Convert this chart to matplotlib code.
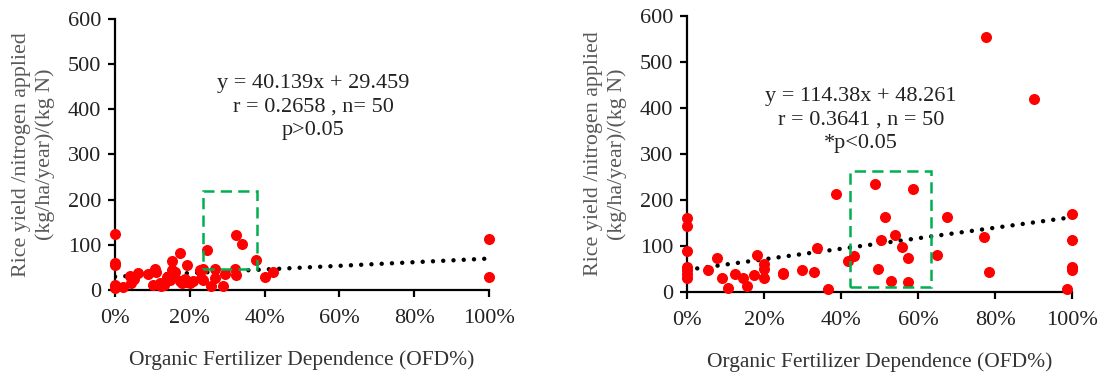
import numpy as np
import matplotlib.pyplot as plt
from matplotlib.patches import Rectangle

plt.rcParams['font.family'] = ['Liberation Serif', 'DejaVu Serif']

# Left panel data (OFD fraction, yield / N)
x_left = [0, 0, 0, 0, 0, 0.022, 0.04, 0.042, 0.05, 0.062, 0.089, 0.102, 0.108, 0.11,
          0.12, 0.124, 0.13, 0.14, 0.147, 0.151, 0.153, 0.153, 0.16, 0.173, 0.175,
          0.18, 0.186, 0.19, 0.193, 0.2, 0.209, 0.227, 0.231, 0.234, 0.234, 0.246,
          0.258, 0.267, 0.267, 0.29, 0.293, 0.32, 0.324, 0.324, 0.34, 0.378, 0.402,
          0.422, 1.0, 1.0]
y_left = [124, 60, 55, 12, 5, 6, 30, 15, 25, 38, 35, 11, 46, 40,
          15, 9, 11, 28, 22, 30, 44, 64, 40, 83, 20,
          15, 24, 18, 55, 16, 21, 44, 26, 46, 22, 88,
          9, 46, 26, 9, 35, 46, 121, 33, 102, 66, 29,
          40, 113, 29]

# Right panel data
x_right = [0, 0, 0, 0, 0, 0, 0, 0.054, 0.078, 0.091, 0.106, 0.125, 0.145, 0.157,
           0.173, 0.183, 0.199, 0.2, 0.2, 0.248, 0.25, 0.298, 0.33, 0.337, 0.365,
           0.388, 0.417, 0.433, 0.487, 0.497, 0.503, 0.515, 0.53, 0.541, 0.558,
           0.574, 0.574, 0.586, 0.649, 0.676, 0.772, 0.777, 0.785, 0.902, 0.986,
           1.0, 1.0, 1.0, 1.0, 1.0]
y_right = [160, 144, 90, 55, 48, 40, 30, 48, 75, 31, 8, 39, 30, 14,
           36, 80, 60, 51, 30, 41, 39, 48, 44, 95, 6,
           212, 67, 78, 234, 51, 114, 164, 25, 125, 97,
           75, 22, 225, 80, 164, 120, 554, 44, 420, 6,
           169, 112, 55, 52, 48]

fits = [(40.139, 29.459), (114.38, 48.261)]
texts = ["y = 40.139x + 29.459\nr = 0.2658 , n= 50\np>0.05",
         "y = 114.38x + 48.261\nr = 0.3641 , n = 50\n*p<0.05"]
text_pos = [(0.53, 405), (0.452, 374)]
boxes = [(0.235, 46, 0.145, 174), (0.424, 10, 0.21, 253)]

fig = plt.figure(figsize=(11.01, 3.72), dpi=100)
ax1 = fig.add_axes([0.1045, 0.2204, 0.3395, 0.7286])
ax2 = fig.add_axes([0.624, 0.215, 0.3497, 0.742])

data = [(x_left, y_left), (x_right, y_right)]
for i, ax in enumerate([ax1, ax2]):
    xs, ys = data[i]
    ax.scatter(xs, ys, s=48, color='#ff0000', zorder=3, clip_on=False)
    a, b = fits[i]
    xl = np.array([0, 1])
    ax.plot(xl, a * xl + b, color='black', lw=3.2, ls=(0, (0.01, 2.3)),
            dash_capstyle='round', zorder=2)
    bx, by, bw, bh = boxes[i]
    ax.add_patch(Rectangle((bx, by), bw, bh, fill=False, edgecolor='#00b050',
                           lw=1.8, ls=(0, (4.5, 2.5)), zorder=4))
    ax.text(text_pos[i][0], text_pos[i][1], texts[i], ha='center', va='center',
            fontsize=16, linespacing=1.33, color='#222222')

    ax.set_xlim(0, 1)
    ax.set_ylim(0, 600)
    ax.set_xticks([0, 0.2, 0.4, 0.6, 0.8, 1.0])
    ax.set_xticklabels(['0%', '20%', '40%', '60%', '80%', '100%'])
    ax.set_yticks(range(0, 601, 100))
    for s in ['top', 'right']:
        ax.spines[s].set_visible(False)
    for s in ['left', 'bottom']:
        ax.spines[s].set_linewidth(1.6)
    ax.tick_params(width=1.6, length=5, labelsize=16, colors='black',
                   labelcolor='#222222', pad=5)
    ax.tick_params(axis='x', pad=9)
    ax.set_xlabel('Organic Fertilizer Dependence (OFD%)', fontsize=15.5,
                  color='#333333', labelpad=16)
    ax.set_ylabel('Rice yield /nitrogen applied\n(kg/ha/year)/(kg N)', fontsize=15.8,
                  color='#595959', linespacing=1.3, labelpad=9)
    ax.patch.set_alpha(0)

fig.savefig('out.png', dpi=100)
